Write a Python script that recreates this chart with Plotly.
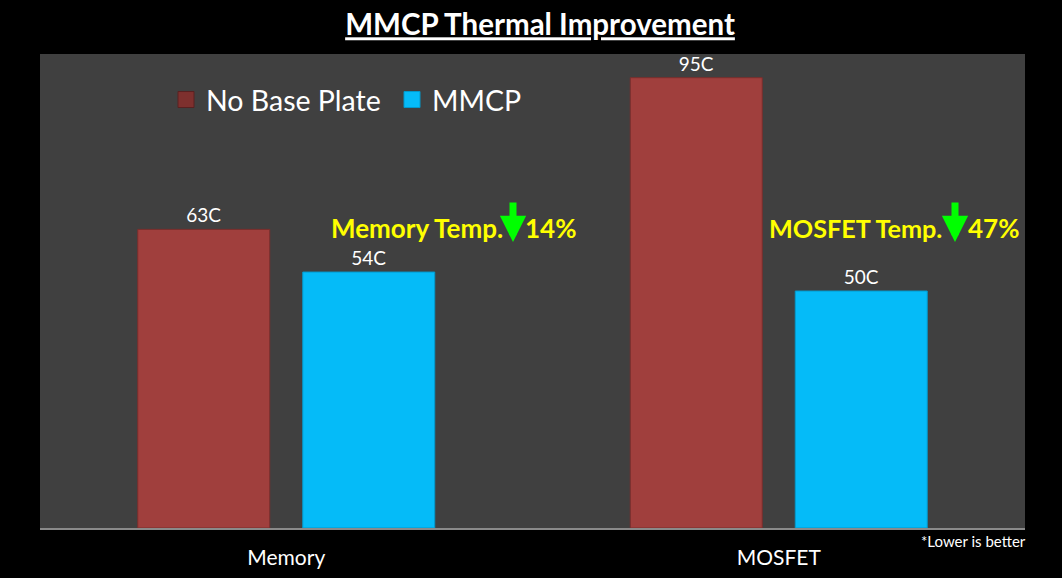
import plotly.graph_objects as go

categories = ["Memory", "MOSFET"]
no_base_plate = [63, 95]
mmcp = [54, 50]
no_base_labels = ["63C", "95C"]
mmcp_labels = ["54C", "50C"]
series_names = ["No Base Plate", "MMCP"]

FONT = "Lato"
RED, RED_DARK = "#A03F3D", "#7A2E2C"
CYAN, CYAN_DARK = "#05BBF8", "#0399CC"

fig = go.Figure()
fig.add_trace(go.Bar(
    name=series_names[0], x=categories, y=no_base_plate, showlegend=False,
    text=no_base_labels, textposition="outside",
    textfont=dict(color="white", size=19, family=FONT),
    marker=dict(color=RED, line=dict(color=RED_DARK, width=1)),
    cliponaxis=False,
))
fig.add_trace(go.Bar(
    name=series_names[1], x=categories, y=mmcp, showlegend=False,
    text=mmcp_labels, textposition="outside",
    textfont=dict(color="white", size=19, family=FONT),
    marker=dict(color=CYAN, line=dict(color=CYAN_DARK, width=1)),
    cliponaxis=False,
))
# legend swatches (larger squares as in the reference)
for name, col, edge in [(series_names[0], "#7E302E", "#5A2020"), (series_names[1], CYAN, CYAN_DARK)]:
    fig.add_trace(go.Scatter(
        name=name, x=[None], y=[None], mode="markers",
        marker=dict(symbol="square", size=16, color=col, line=dict(color=edge, width=1)),
    ))

W, H = 1062, 578
L, R, T, B = 40, 37, 54, 50
pw, ph = W - L - R, H - T - B

def px(x):
    return (x - L) / pw

def py(y):
    return (H - B - y) / ph

ann_font = dict(color="#FFFF00", size=26, family=FONT)
annotations = [
    dict(text="<b>Memory Temp.</b>", x=px(505), y=py(228), xref="paper", yref="paper",
         xanchor="right", yanchor="middle", showarrow=False, font=ann_font),
    dict(text="<b>14%</b>", x=px(523), y=py(228), xref="paper", yref="paper",
         xanchor="left", yanchor="middle", showarrow=False, font=ann_font),
    dict(text="<b>MOSFET Temp.</b>", x=px(944), y=py(228), xref="paper", yref="paper",
         xanchor="right", yanchor="middle", showarrow=False,
         font=dict(color="#FFFF00", size=25.2, family=FONT)),
    dict(text="<b>47%</b>", x=px(966), y=py(228), xref="paper", yref="paper",
         xanchor="left", yanchor="middle", showarrow=False, font=ann_font),
    dict(text="*Lower is better", x=px(1028), y=py(541), xref="paper", yref="paper",
         xanchor="right", yanchor="middle", showarrow=False,
         font=dict(color="white", size=15, family=FONT)),
]
for ax_px in (513, 955):
    annotations.append(dict(
        text="", x=px(ax_px), y=py(242), xref="paper", yref="paper",
        ax=0, ay=-41, axref="pixel", ayref="pixel",
        showarrow=True, arrowhead=2, arrowsize=0.75, arrowwidth=7,
        arrowcolor="#00FF00",
    ))

fig.update_layout(
    width=W, height=H,
    margin=dict(l=L, r=R, t=T, b=B, autoexpand=False),
    paper_bgcolor="black",
    plot_bgcolor="#404040",
    barmode="group", bargap=0.33, bargroupgap=0.2,
    title=dict(text="<b><u>MMCP Thermal Improvement</u></b>", x=540 / W, xanchor="center",
               y=1 - 25 / H, yanchor="middle",
               font=dict(color="white", size=29.5, family=FONT)),
    legend=dict(orientation="h", x=px(166), y=py(100), xanchor="left", yanchor="middle",
                font=dict(color="white", size=28.5, family=FONT),
                bgcolor="rgba(0,0,0,0)", itemwidth=30,
                entrywidth=181, entrywidthmode="pixels"),
    xaxis=dict(showline=True, linecolor="#8a8a8a", linewidth=2, ticks="",
               tickfont=dict(color="white", size=21, family=FONT), showgrid=False,
               ticklabelstandoff=10, automargin=False),
    yaxis=dict(range=[0, 100], showticklabels=False, showgrid=False, zeroline=False,
               ticks="", automargin=False),
    annotations=annotations,
    font=dict(family=FONT),
)

fig.write_html("out.html")
